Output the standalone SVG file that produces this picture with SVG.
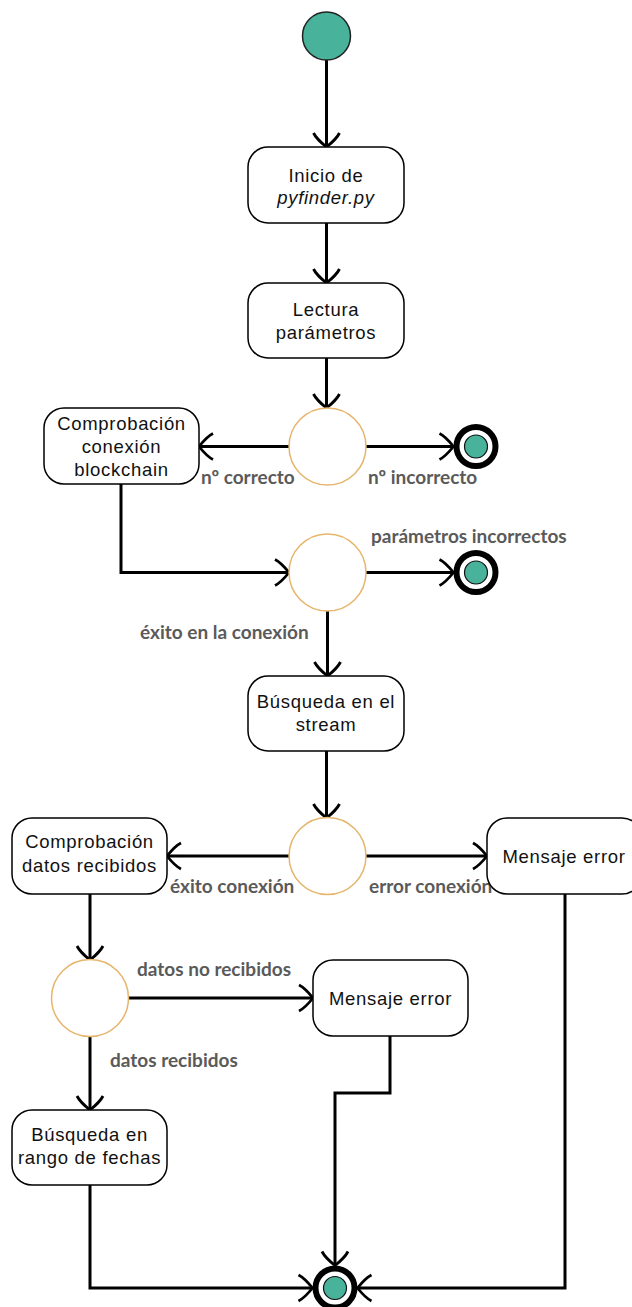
<svg xmlns="http://www.w3.org/2000/svg" width="632" height="1307" viewBox="0 0 632 1307">
  <style>
    .box { fill: #ffffff; stroke: #000000; stroke-width: 1.5; }
    .dec { fill: #ffffff; stroke: #E6B56C; stroke-width: 1.5; }
    .txt { font-family: "Liberation Sans", Arial, sans-serif; font-size: 18.5px; letter-spacing: 0.7px; fill: #111111; text-anchor: middle; }
    .lbl { font-family: Lato, "Open Sans", sans-serif; font-weight: bold; font-size: 19px; fill: #5a5a5a; }
    .edge { fill: none; stroke: #000000; stroke-width: 3; }
    .ring { fill: #ffffff; stroke: #000000; stroke-width: 6; }
    .dot { fill: #48B29B; stroke: #111111; stroke-width: 1.2; }
  </style>
  <defs>
    <marker id="arr" viewBox="-16 -15 18 30" refX="0" refY="0" markerWidth="18" markerHeight="30" orient="auto" markerUnits="userSpaceOnUse">
      <path d="M-14,-13 C-10,-11 -4,-5 0,0 C-4,5 -10,11 -14,13" fill="none" stroke="#000000" stroke-width="2.8"/>
    </marker>
  </defs>

  <!-- connectors -->
  <g id="connectors">
    <path class="edge" d="M326.5,60 V147" marker-end="url(#arr)"/>
    <path class="edge" d="M326.5,223 V283" marker-end="url(#arr)"/>
    <path class="edge" d="M326.5,358 V408" marker-end="url(#arr)"/>
    <path class="edge" d="M289,446.5 H199" marker-end="url(#arr)"/>
    <path class="edge" d="M366,446.5 H453.5" marker-end="url(#arr)"/>
    <path class="edge" d="M121,484 V572.5 H289" marker-end="url(#arr)"/>
    <path class="edge" d="M366,572.5 H453.5" marker-end="url(#arr)"/>
    <path class="edge" d="M327.5,611 V676" marker-end="url(#arr)"/>
    <path class="edge" d="M326.5,751 V818" marker-end="url(#arr)"/>
    <path class="edge" d="M289,856 H167" marker-end="url(#arr)"/>
    <path class="edge" d="M366,856 H487" marker-end="url(#arr)"/>
    <path class="edge" d="M90,894 V960" marker-end="url(#arr)"/>
    <path class="edge" d="M128.5,998 H313" marker-end="url(#arr)"/>
    <path class="edge" d="M90,1036 V1110" marker-end="url(#arr)"/>
    <path class="edge" d="M390,1036 V1093 H335 V1265.5" marker-end="url(#arr)"/>
    <path class="edge" d="M90,1185 V1288 H312.5" marker-end="url(#arr)"/>
    <path class="edge" d="M565,894 V1288 H357.5" marker-end="url(#arr)"/>
  </g>

  <!-- edge labels -->
  <g id="labels">
    <text class="lbl" x="201" y="484">nº correcto</text>
    <text class="lbl" x="368" y="484">nº incorrecto</text>
    <text class="lbl" x="371" y="543">parámetros incorrectos</text>
    <text class="lbl" x="140" y="639">éxito en la conexión</text>
    <text class="lbl" x="170" y="893">éxito conexión</text>
    <text class="lbl" x="369" y="893">error conexión</text>
    <text class="lbl" x="137" y="976">datos no recibidos</text>
    <text class="lbl" x="110" y="1067">datos recibidos</text>
  </g>

  <g id="start">
    <circle cx="326.5" cy="36" r="24" fill="#48B29B" stroke="#222222" stroke-width="1.5"/>
  </g>

  <g id="inicio">
    <rect class="box" x="248" y="147" width="156" height="76" rx="20"/>
    <text class="txt" x="326" y="182">Inicio de</text>
    <text class="txt" x="326" y="204" font-style="italic">pyfinder.py</text>
  </g>

  <g id="lectura">
    <rect class="box" x="248" y="283" width="156" height="75" rx="20"/>
    <text class="txt" x="326" y="316">Lectura</text>
    <text class="txt" x="326" y="339">parámetros</text>
  </g>

  <g id="decision-numero">
    <circle class="dec" cx="327.5" cy="446.5" r="38.5"/>
  </g>

  <g id="fin-numero">
    <circle class="ring" cx="476" cy="446.5" r="19.5"/>
    <circle class="dot" cx="476" cy="446.5" r="11.5"/>
  </g>

  <g id="comprobacion-conexion">
    <rect class="box" x="44" y="408" width="155" height="76" rx="20"/>
    <text class="txt" x="121.5" y="430">Comprobación</text>
    <text class="txt" x="121.5" y="453">conexión</text>
    <text class="txt" x="121.5" y="476">blockchain</text>
  </g>

  <g id="decision-conexion">
    <circle class="dec" cx="327.5" cy="572.5" r="38.5"/>
  </g>

  <g id="fin-parametros">
    <circle class="ring" cx="476" cy="572.5" r="19.5"/>
    <circle class="dot" cx="476" cy="572.5" r="11.5"/>
  </g>

  <g id="busqueda-stream">
    <rect class="box" x="248" y="676" width="156" height="75" rx="20"/>
    <text class="txt" x="326" y="708">Búsqueda en el</text>
    <text class="txt" x="326" y="731">stream</text>
  </g>

  <g id="decision-stream">
    <circle class="dec" cx="327.5" cy="856" r="38.5"/>
  </g>

  <g id="comprobacion-datos">
    <rect class="box" x="12" y="818" width="155" height="76" rx="20"/>
    <text class="txt" x="89.5" y="848">Comprobación</text>
    <text class="txt" x="89.5" y="872">datos recibidos</text>
  </g>

  <g id="error-conexion">
    <rect class="box" x="487" y="818" width="155" height="76" rx="20"/>
    <text class="txt" x="564" y="863">Mensaje error</text>
  </g>

  <g id="decision-datos">
    <circle class="dec" cx="90" cy="998" r="38.5"/>
  </g>

  <g id="error-datos">
    <rect class="box" x="313" y="960" width="155" height="76" rx="20"/>
    <text class="txt" x="390.5" y="1005">Mensaje error</text>
  </g>

  <g id="busqueda-fechas">
    <rect class="box" x="12" y="1110" width="155" height="75" rx="20"/>
    <text class="txt" x="89.5" y="1141">Búsqueda en</text>
    <text class="txt" x="89.5" y="1164">rango de fechas</text>
  </g>

  <g id="fin">
    <circle class="ring" cx="335" cy="1288" r="19.5"/>
    <circle class="dot" cx="335" cy="1288" r="11.5"/>
  </g>
</svg>
